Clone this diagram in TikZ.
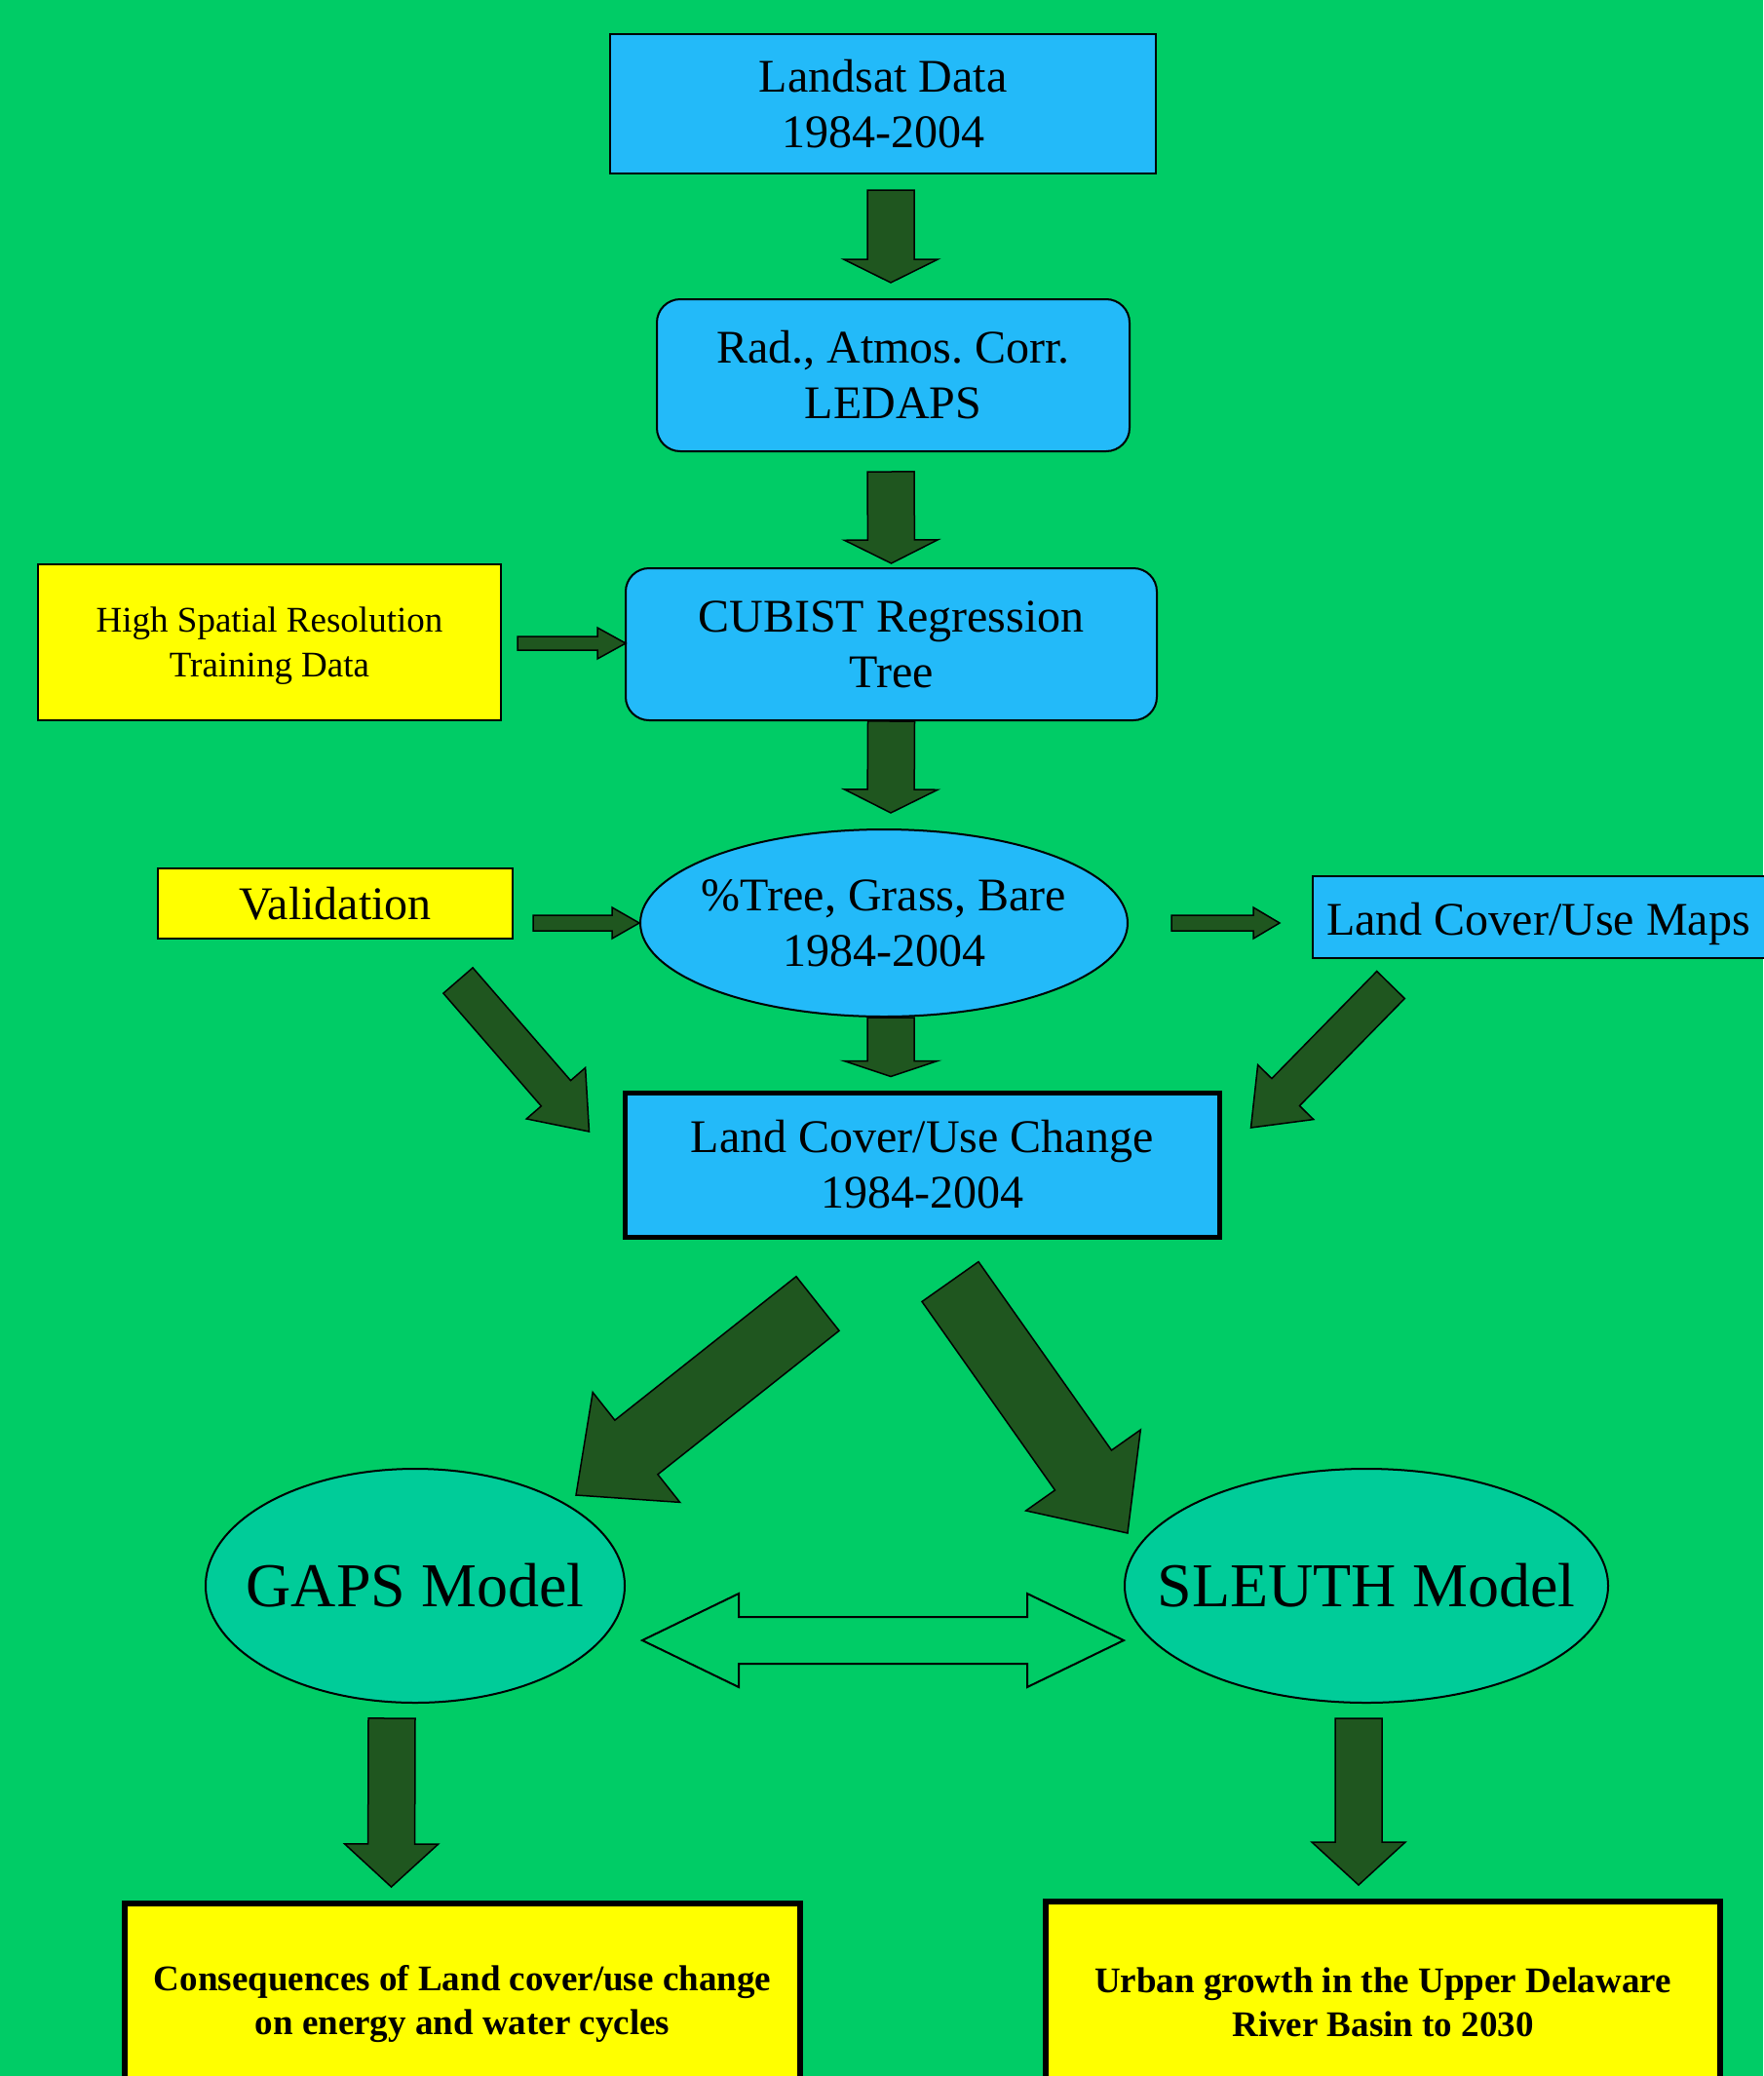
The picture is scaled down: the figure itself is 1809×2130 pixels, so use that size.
\documentclass[tikz,border=0pt]{standalone}
\usepackage{fontspec}
\setmainfont{Liberation Serif}
\usetikzlibrary{calc,shapes.geometric}
\definecolor{bgG}{RGB}{0,204,102}
\definecolor{boxB}{RGB}{35,186,249}
\definecolor{arrG}{RGB}{31,86,31}
\definecolor{yelY}{RGB}{255,255,0}
\definecolor{tealE}{RGB}{0,204,153}
% block arrow: #1 tail, #2 tip, #3 shaft width, #4 head width, #5 head length
\newcommand{\blockarrow}[5]{%
  \coordinate (baB) at ($(#2)!#5pt!(#1)$);
  \filldraw[blockarr] ($(#1)!#3pt/2!90:(#2)$) -- ($(baB)!#3pt/2!90:(#2)$) -- ($(baB)!#4pt/2!90:(#2)$) -- (#2) -- ($(baB)!#4pt/2!-90:(#2)$) -- ($(baB)!#3pt/2!-90:(#2)$) -- ($(#1)!#3pt/2!-90:(#2)$) -- cycle;}
\tikzset{
  bluebox/.style={draw=black, line width=2pt, fill=boxB, inner sep=0pt, align=center, font=\fontsize{48}{57}\selectfont},
  yelbox/.style={draw=black, line width=2pt, fill=yelY, inner sep=0pt, align=center, font=\fontsize{48}{57}\selectfont},
  blueell/.style={ellipse, draw=black, line width=2pt, fill=boxB, inner sep=0pt},
  tealell/.style={ellipse, draw=black, line width=2pt, fill=tealE, inner sep=0pt},
  elltext/.style={inner sep=0pt, align=center, font=\fontsize{48}{57}\selectfont},
  modeltext/.style={inner sep=0pt, align=center, font=\fontsize{64}{70}\selectfont},
  resbox/.style={draw=black, line width=6pt, fill=yelY, inner sep=0pt, align=center, font=\fontsize{37}{45}\selectfont\bfseries},
  blockarr/.style={fill=arrG, draw=black, line width=1.5pt, line join=miter},
  hollowarr/.style={draw=black, line width=2pt, line join=miter}
}
\begin{document}
\frenchspacing
\begin{tikzpicture}[x=1pt,y=-1pt]
\useasboundingbox (0,0) rectangle (1809,2130);
\fill[bgG] (0,0) rectangle (1809,2130);

% nodes
\node[bluebox, minimum width=560pt, minimum height=143pt] (landsat) at (906,106.5) {Landsat Data\\1984-2004};
\node[bluebox, rounded corners=24pt, minimum width=485pt, minimum height=156pt] (rad) at (916.5,385) {Rad., Atmos. Corr.\\LEDAPS};
\node[bluebox, rounded corners=24pt, minimum width=545pt, minimum height=156pt] (cubist) at (914.5,661) {CUBIST Regression\\Tree};
\node[yelbox, minimum width=475pt, minimum height=160pt, text depth=0pt, font=\fontsize{37}{46}\selectfont] (hsr) at (276.5,659) {High Spatial Resolution\\Training Data};
\node[blueell, minimum width=500pt, minimum height=192pt] (tree) at (907,947) {};
\node[elltext] (treetext) at (tree.center) {\%Tree, Grass, Bare\\1984-2004};
\node[yelbox, minimum width=364pt, minimum height=72pt] (valid) at (344,927) {Validation};
\node[bluebox, anchor=west, minimum width=480pt, minimum height=84pt] (maps) at (1346,941) {};
\node[elltext, anchor=base west] (mapstext) at (1361,959) {Land Cover/Use Maps};
\node[bluebox, line width=5pt, minimum width=610pt, minimum height=148pt] (change) at (946,1195) {Land Cover/Use Change\\1984-2004};
\node[tealell, minimum width=430pt, minimum height=240pt] (gaps) at (426,1627) {};
\node[modeltext] (gapstext) at (gaps.center) {GAPS Model};
\node[tealell, minimum width=496pt, minimum height=240pt] (sleuth) at (1402,1627) {};
\node[modeltext] (sleuthtext) at (sleuth.center) {SLEUTH Model};
\node[resbox, minimum width=693pt, minimum height=206pt] (cons) at (474.5,2056) {Consequences of Land cover/use change\\on energy and water cycles};
\node[resbox, minimum width=692pt, minimum height=206pt] (urban) at (1419,2054) {Urban growth in the Upper Delaware\\River Basin to 2030};

% arrow end points
\coordinate (a1t) at ($(landsat.south)+(8,16)$);
\coordinate (a1h) at ($(rad.north)+(-2.5,-16)$);
\coordinate (a2t) at ($(rad.south)+(-2.5,20)$);
\coordinate (a2h) at ($(cubist.north)+(0,-4)$);
\coordinate (a3t) at ($(cubist.south)+(0,0)$);
\coordinate (a3h) at ($(tree.north)+(7,-16)$);
\coordinate (a4t) at ($(tree.south)+(7,0)$);
\coordinate (a4h) at ($(change.north)+(-32,-14)$);
\coordinate (a5t) at ($(hsr.east)+(16,1)$);
\coordinate (a5h) at ($(cubist.west)+(1,-1)$);
\coordinate (a6t) at ($(valid.east)+(20,20)$);
\coordinate (a6h) at ($(tree.west)+(0,0)$);
\coordinate (a7t) at ($(tree.east)+(44,0)$);
\coordinate (a7h) at ($(maps.west)+(-33,6)$);
\coordinate (a8t) at ($(valid.south)+(126,42)$);
\coordinate (a8h) at ($(change.west)+(-34,-34)$);
\coordinate (a9t) at ($(maps.south west)+(81,26.5)$);
\coordinate (a9h) at ($(change.east)+(30,-38)$);
\coordinate (a10t) at ($(change.south)+(-107,66)$);
\coordinate (a10h) at ($(gaps.north)+(165,28)$);
\coordinate (a11t) at ($(change.south)+(29,43.5)$);
\coordinate (a11h) at ($(sleuth.north)+(-245,67)$);
\coordinate (a12t) at ($(gaps.south)+(-24,15)$);
\coordinate (a12h) at ($(cons.north)+(-73,-14)$);
\coordinate (a13t) at ($(sleuth.south)+(-8,15)$);
\coordinate (a13h) at ($(urban.north)+(-25,-14)$);
\coordinate (dl) at ($(gaps.east)+(17,56)$);
\coordinate (dr) at ($(sleuth.west)+(0,56)$);

% block arrows
\blockarrow{a1t}{a1h}{48}{97}{24}
\blockarrow{a2t}{a2h}{48}{96}{24}
\blockarrow{a3t}{a3h}{48}{96}{24}
\blockarrow{a4t}{a4h}{48}{96}{16}
\blockarrow{a5t}{a5h}{14}{32}{29}
\blockarrow{a6t}{a6h}{16}{32}{28}
\blockarrow{a7t}{a7h}{16}{32}{27}
\blockarrow{a8t}{a8h}{40}{80}{52}
\blockarrow{a9t}{a9h}{40}{80}{51}
\blockarrow{a10t}{a10h}{71}{144}{79}
\blockarrow{a11t}{a11h}{71}{144}{79}
\blockarrow{a12t}{a12h}{48}{96}{44}
\blockarrow{a13t}{a13h}{48}{96}{44}

% hollow double arrow between the models
\draw[hollowarr] (dl) -- ($(dl)+(99,-48)$) -- ($(dl)+(99,-24)$) -- ($(dr)+(-99,-24)$) -- ($(dr)+(-99,-48)$) -- (dr) -- ($(dr)+(-99,48)$) -- ($(dr)+(-99,24)$) -- ($(dl)+(99,24)$) -- ($(dl)+(99,48)$) -- cycle;
\end{tikzpicture}
\end{document}
